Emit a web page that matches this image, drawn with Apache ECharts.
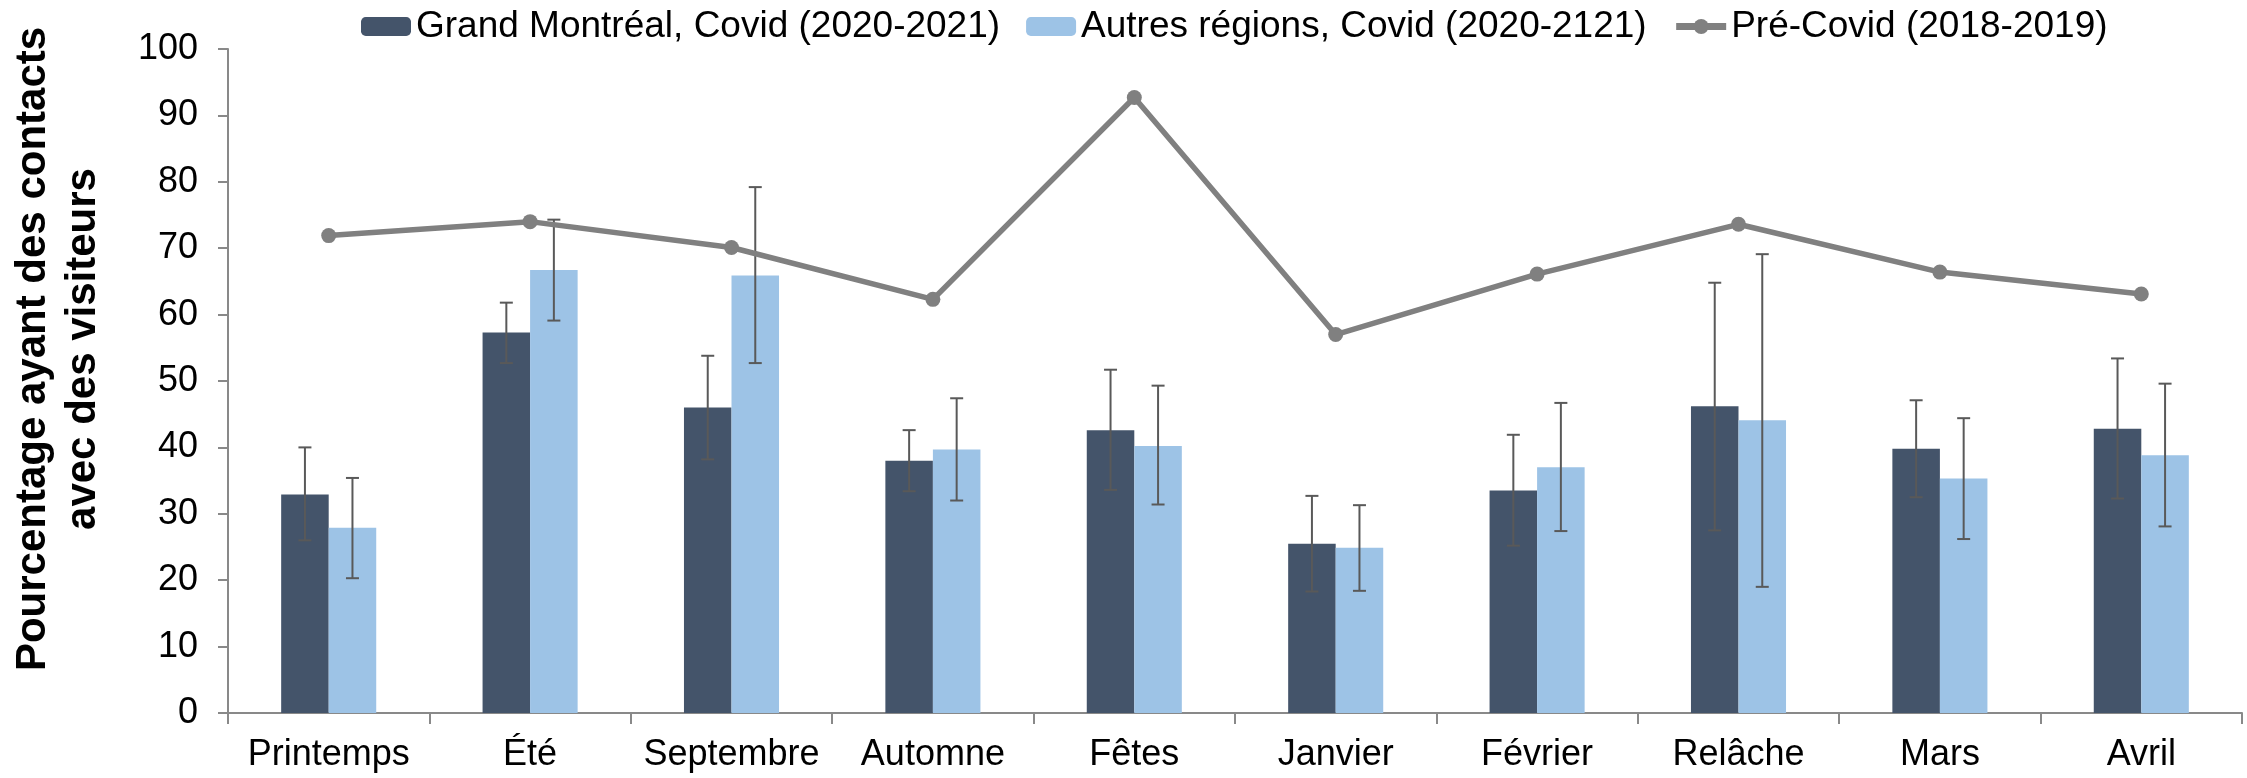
<!DOCTYPE html>
<html>
<head>
<meta charset="utf-8">
<script src="https://cdn.jsdelivr.net/npm/echarts@6/dist/echarts.min.js"></script>
<style>
  html, body { margin: 0; padding: 0; background: #fff; }
  #chart { width: 2247px; height: 778px; }
</style>
</head>
<body>
<div id="chart"></div>
<script>
const categories = ['Printemps', 'Été', 'Septembre', 'Automne', 'Fêtes', 'Janvier', 'Février', 'Relâche', 'Mars', 'Avril'];
const yTicks = [0, 10, 20, 30, 40, 50, 60, 70, 80, 90, 100];

const montrealValues = [32.9, 57.3, 46.0, 38.0, 42.6, 25.5, 33.5, 46.2, 39.8, 42.8];
const montrealLow = [26.0, 52.7, 38.2, 33.4, 33.6, 18.3, 25.2, 27.5, 32.5, 32.3];
const montrealHigh = [40.0, 61.8, 53.8, 42.6, 51.7, 32.7, 41.9, 64.8, 47.1, 53.4];

const autresValues = [27.9, 66.7, 65.9, 39.7, 40.2, 24.9, 37.0, 44.1, 35.3, 38.8];
const autresLow = [20.3, 59.1, 52.7, 32.0, 31.4, 18.4, 27.4, 19.0, 26.2, 28.1];
const autresHigh = [35.4, 74.3, 79.2, 47.4, 49.3, 31.3, 46.7, 69.1, 44.4, 49.6];

const preCovidValues = [71.9, 74.0, 70.1, 62.3, 92.7, 57.0, 66.1, 73.6, 66.4, 63.1];

const seriesNames = [
  'Grand Montréal, Covid (2020-2021)',
  'Autres régions, Covid (2020-2121)',
  'Pré-Covid (2018-2019)'
];

const font = '"Liberation Sans", Arial, sans-serif';
const axisColor = '#898989';

// error bars drawn next to each bar of the pair (offset = half a bar width)
function errorBars(low, high, side) {
  return {
    type: 'custom',
    silent: true,
    z: 4,
    data: low.map((l, i) => [i, l, high[i]]),
    encode: { x: 0, y: [1, 2] },
    renderItem: (params, api) => {
      const band = api.size([1, 0])[0];
      const lo = api.coord([api.value(0), api.value(1)]);
      const hi = api.coord([api.value(0), api.value(2)]);
      const x = lo[0] + side * band * 0.118;
      const cap = 6.5;
      const style = { stroke: '#595959', lineWidth: 2 };
      return {
        type: 'group',
        children: [
          { type: 'line', shape: { x1: x, y1: hi[1], x2: x, y2: lo[1] }, style },
          { type: 'line', shape: { x1: x - cap, y1: hi[1], x2: x + cap, y2: hi[1] }, style },
          { type: 'line', shape: { x1: x - cap, y1: lo[1], x2: x + cap, y2: lo[1] }, style }
        ]
      };
    }
  };
}

const chart = echarts.init(document.getElementById('chart'));
const option = {
  animation: false,
  textStyle: { fontFamily: font },
  legend: {
    data: seriesNames,
    left: 356,
    top: 3,
    itemWidth: 50,
    itemHeight: 19,
    itemGap: 26,
    lineStyle: { width: 7, color: '#808080' },
    textStyle: { fontSize: 37, color: '#000', fontFamily: font }
  },
  grid: {
    left: 228,
    right: 5,
    top: 49,
    bottom: 65
  },
  graphic: [
    {
      type: 'text',
      x: 58,
      y: 349,
      rotation: Math.PI / 2,
      style: {
        text: 'Pourcentage ayant des contacts\navec des visiteurs',
        font: 'bold 42px ' + font,
        fill: '#000',
        align: 'center',
        verticalAlign: 'middle',
        lineHeight: 50
      }
    }
  ],
  xAxis: {
    type: 'category',
    data: categories,
    axisLine: { lineStyle: { color: axisColor, width: 2 } },
    axisTick: { show: true, length: 11, lineStyle: { color: axisColor, width: 2 } },
    axisLabel: { interval: 0, fontSize: 36, color: '#000', margin: 24, fontFamily: font }
  },
  yAxis: {
    type: 'value',
    min: yTicks[0],
    max: yTicks[yTicks.length - 1],
    interval: 10,
    axisLine: { show: true, lineStyle: { color: axisColor, width: 2 } },
    axisTick: { show: true, length: 10, lineStyle: { color: axisColor, width: 2 } },
    axisLabel: { fontSize: 36, color: '#000', margin: 30, fontFamily: font },
    splitLine: { show: false }
  },
  series: [
    {
      name: seriesNames[0],
      type: 'bar',
      data: montrealValues,
      barWidth: '23.6%',
      barGap: '0%',
      itemStyle: { color: '#44546A' }
    },
    {
      name: seriesNames[1],
      type: 'bar',
      data: autresValues,
      barWidth: '23.6%',
      barGap: '0%',
      itemStyle: { color: '#9DC3E6' }
    },
    errorBars(montrealLow, montrealHigh, -1),
    errorBars(autresLow, autresHigh, 1),
    {
      name: seriesNames[2],
      type: 'line',
      data: preCovidValues,
      z: 5,
      symbol: 'circle',
      symbolSize: 15,
      itemStyle: { color: '#808080' },
      lineStyle: { color: '#808080', width: 5.5 }
    }
  ]
};
chart.setOption(option);
</script>
</body>
</html>
